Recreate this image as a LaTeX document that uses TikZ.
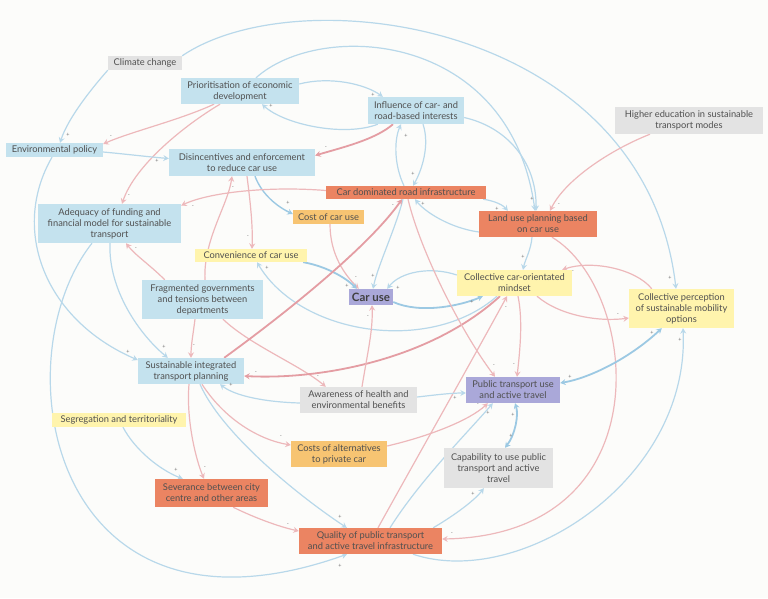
\documentclass[tikz,border=0pt]{standalone}
\usepackage{fontspec}
\setmainfont{Lato}
\usetikzlibrary{arrows.meta,calc,backgrounds}
\definecolor{bgc}{HTML}{FCFCFA}
\definecolor{txtc}{HTML}{505050}
\definecolor{sgnc}{HTML}{707070}
\definecolor{cblue}{HTML}{C4E2EE}
\definecolor{cgray}{HTML}{E3E3E3}
\definecolor{cyel}{HTML}{FFF4AD}
\definecolor{corg}{HTML}{F7C472}
\definecolor{cred}{HTML}{EB8462}
\definecolor{cpur}{HTML}{AAA8D9}
\definecolor{lblue}{HTML}{B8D8EA}
\definecolor{dblue}{HTML}{9CC9E3}
\definecolor{lred}{HTML}{EDB8BB}
\definecolor{dred}{HTML}{E49DA3}
\tikzset{
  nbox/.style={inner sep=0pt, align=center, text=txtc, font=\fontsize{9.3}{11}\selectfont},
  bluen/.style={nbox, fill=cblue},
  grayn/.style={nbox, fill=cgray},
  yeln/.style={nbox, fill=cyel},
  orgn/.style={nbox, fill=corg},
  redn/.style={nbox, fill=cred},
  purn/.style={nbox, fill=cpur},
  >={Stealth[length=5.5pt,width=6pt,inset=2pt]},
  bl/.style={->, draw=lblue, line width=1.2pt},
  blk/.style={->, draw=dblue, line width=1.8pt},
  rd/.style={->, draw=lred, line width=1.2pt},
  rdk/.style={->, draw=dred, line width=1.8pt},
  sgn/.style={font=\fontsize{5.5}{6}\selectfont, text=sgnc, inner sep=0pt}
}
\begin{document}
\begin{tikzpicture}[x=1pt,y=-1pt]
\useasboundingbox (0,0) rectangle (768,598);
% nodes
\node[grayn, minimum width=74pt, minimum height=14pt] (cc) at (145,63) {Climate change};
\node[bluen, minimum width=118pt, minimum height=26pt] (prio) at (240,91) {Prioritisation of economic\\development};
\node[bluen, minimum width=96pt, minimum height=27pt] (infl) at (416,110.5) {Influence of car- and\\road-based interests};
\node[grayn, minimum width=148pt, minimum height=27pt] (hied) at (689,120.5) {Higher education in sustainable\\transport modes};
\node[bluen, minimum width=97pt, minimum height=14pt] (env) at (54.5,150) {Environmental policy};
\node[bluen, minimum width=146pt, minimum height=27pt] (disinc) at (242,162.5) {Disincentives and enforcement\\to reduce car use};
\node[redn, minimum width=160pt, minimum height=13pt] (cdri) at (406,192.5) {Car dominated road infrastructure};
\node[orgn, minimum width=71pt, minimum height=14pt] (cost) at (328.5,217) {Cost of car use};
\node[redn, minimum width=118pt, minimum height=26pt] (land) at (538,224) {Land use planning based\\on car use};
\node[bluen, minimum width=143pt, minimum height=39pt] (adeq) at (109.5,223.5) {Adequacy of funding and\\financial model for sustainable\\transport};
\node[yeln, minimum width=112pt, minimum height=13pt] (conv) at (251,255.5) {Convenience of car use};
\node[yeln, minimum width=115pt, minimum height=26pt] (mind) at (514.5,283) {Collective car-orientated\\mindset};
\node[yeln, minimum width=105pt, minimum height=39pt] (perc) at (681.5,308.5) {Collective perception\\of sustainable mobility\\options};
\node[bluen, minimum width=121pt, minimum height=39pt] (frag) at (202.5,299.5) {Fragmented governments\\and tensions between\\departments};
\node[purn, minimum width=44pt, minimum height=16pt, font=\fontsize{11.5}{13}\selectfont\bfseries, text=black!75] (car) at (371,297) {Car use};
\node[bluen, minimum width=106pt, minimum height=26pt] (sitp) at (191,371) {Sustainable integrated\\transport planning};
\node[grayn, minimum width=117pt, minimum height=26pt] (aware) at (358.5,400) {Awareness of health and\\environmental benefits};
\node[purn, minimum width=94pt, minimum height=26pt] (pt) at (513,390) {Public transport use\\and active travel};
\node[yeln, minimum width=134pt, minimum height=14pt] (seg) at (119,420) {Segregation and territoriality};
\node[orgn, minimum width=96pt, minimum height=26pt] (alt) at (339,454) {Costs of alternatives\\to private car};
\node[grayn, minimum width=109pt, minimum height=40pt] (cap) at (498.5,468) {Capability to use public\\transport and active\\travel};
\node[redn, minimum width=113pt, minimum height=28pt] (sev) at (211.5,493) {Severance between city\\centre and other areas};
\node[redn, minimum width=143pt, minimum height=26pt] (qual) at (370.5,541) {Quality of public transport\\and active travel infrastructure};
% signs
\foreach \px/\py/\t [count=\i] in {68/135/+, 670/278/+, 111/137/-, 129/196/-, 373/95/+, 271/106/+, 326/148/-, 406/136/+, 413/174/+, 157/161/+, 288/203/+, 248/237/-, 233/188/-, 136/249/-, 194/346/-, 318/377/-, 193/207/-, 356/278/-, 347/286/+, 373/276/+, 398/288/+, 472/302/+, 267/268/+, 393/206/-, 423/204/+, 497/209/+, 532/199/+, 559/205/-, 523/257/+, 452/534/-, 573/272/-, 618/315/-, 256/373/-, 514/365/-, 506/308/-, 494/366/-, 570/377/+, 652/333/+, 680/340/+, 513/415/+, 511/436/+, 473/494/+, 488/413/+, 478/405/-, 455/398/+, 231/385/+, 368/317/-, 164/347/+, 128/352/+, 340/566/+, 340/517/+, 205/468/-, 281/437/-, 176/470/+, 288/525/-}
  \node[sgn] (sg\i) at (\px,\py) {\t};
\begin{pgfonlayer}{background}
\fill[bgc] (0,0) rectangle (768,598);
% edges
\draw[bl] (cc.south west) .. controls (92,88) and (68,118) .. ($(env.north)+(5.5,0)$);
\draw[bl] (cc.north east) .. controls (300,-24) and (645,22) .. ($(perc.north)+(-5.5,0)$);
\draw[rd] ($(prio.south)+(-26,0)$) .. controls (180,120) and (130,132) .. ($(env.east)+(0,-6)$);
\draw[rd] ($(prio.south)+(-20,0)$) .. controls (185,125) and (135,165) .. ($(adeq.north)+(12.5,0)$);
\draw[bl] ($(prio.east)+(0,-7)$) .. controls (330,76) and (365,84) .. ($(infl.north west)+(15,0)$);
\draw[bl] ($(infl.south west)+(10,0)$) .. controls (345,137) and (285,125) .. ($(prio.south)+(22,0)$);
\draw[rdk] ($(infl.south)+(-23,0)$) .. controls (375,140) and (340,148) .. ($(disinc.east)+(0,-7)$);
\draw[bl] ($(cdri.north)+(-2,0)$) .. controls (394,165) and (394,140) .. ($(infl.south)+(-15,0)$);
\draw[bl] ($(infl.south)+(7,0)$) .. controls (430,145) and (422,170) .. ($(cdri.north)+(7,0)$);
\draw[bl] ($(env.east)+(0,2)$) .. controls (125,154) and (150,157) .. ($(disinc.west)+(0,-4)$);
\draw[->, draw=dblue, line width=1.4pt] ($(disinc.south)+(13,0)$) .. controls (262,195) and (278,207) .. ($(cost.west)+(0,-3)$);
\draw[rd] ($(disinc.south)+(5,0)$) .. controls (250,200) and (253,225) .. ($(conv.north)+(1,0)$);
\draw[rd] ($(frag.north)+(2.5,0)$) .. controls (203,240) and (228,205) .. ($(disinc.south)+(-10,0)$);
\draw[rd] ($(frag.north west)+(23,0)$) .. controls (150,265) and (135,255) .. ($(adeq.south)+(16.5,0)$);
\draw[rd] ($(frag.south)+(-7.5,0)$) .. controls (193,335) and (191,345) .. (sitp.north);
\draw[rd] ($(frag.south)+(20.5,0)$) .. controls (250,345) and (300,365) .. ($(aware.north west)+(26,0)$);
\draw[rd] ($(cdri.west)+(0,-2)$) .. controls (270,186) and (210,192) .. ($(adeq.east)+(0,-18)$);
\draw[rd] ($(cost.south)+(1.5,0)$) .. controls (330,255) and (345,275) .. ($(car.north west)+(10,0)$);
\draw[blk] ($(conv.south east)+(-4,0)$) .. controls (325,266) and (345,277) .. ($(car.north west)+(8,0)$);
\draw[bl] ($(cdri.south)+(-3,0)$) .. controls (395,230) and (378,265) .. ($(car.north)+(2,0)$);
\draw[bl] ($(mind.west)+(0,-8)$) .. controls (430,266) and (400,272) .. ($(car.north east)+(-6,0)$);
\draw[blk] ($(car.east)+(0,5)$) .. controls (420,314) and (460,306) .. ($(mind.south west)+(26,0)$);
\draw[bl] ($(mind.south)+(-17.5,0)$) .. controls (430,355) and (300,335) .. ($(conv.south)+(6,0)$);
\draw[rdk] ($(sitp.north east)+(-20,0)$) .. controls (290,310) and (370,245) .. ($(cdri.south)+(-4,0)$);
\draw[bl] ($(land.west)+(0,8)$) .. controls (450,228) and (425,212) .. ($(cdri.south)+(9,0)$);
\draw[bl] ($(cdri.south east)+(-3,0)$) .. controls (495,201) and (503,205) .. ($(land.north west)+(29,0)$);
\draw[bl] ($(infl.east)+(0,7)$) .. controls (510,128) and (537,165) .. ($(land.north)+(-2,0)$);
\draw[bl] ($(prio.north)+(16,0)$) .. controls (320,20) and (510,30) .. ($(land.north)+(-3,0)$);
\draw[rd] ($(hied.south)+(-39,0)$) .. controls (610,150) and (565,180) .. ($(land.north)+(12,0)$);
\draw[bl] ($(land.south)+(-6,0)$) .. controls (531,250) and (525,260) .. ($(mind.north)+(8.5,0)$);
\draw[rd] ($(land.south)+(14,0)$) .. controls (640,290) and (665,535) .. ($(qual.east)+(0,-2)$);
\draw[rd] ($(perc.north west)+(23,0)$) .. controls (635,268) and (590,260) .. ($(mind.north east)+(-10,0)$);
\draw[rd] ($(mind.south)+(22.5,0)$) .. controls (560,316) and (600,322) .. ($(perc.west)+(0,9.5)$);
\draw[rdk] ($(mind.south)+(-14.5,0)$) .. controls (430,360) and (320,380) .. ($(sitp.east)+(0,5)$);
\draw[rd] ($(mind.south)+(3.5,0)$) .. controls (523,320) and (520,350) .. ($(pt.north)+(4,0)$);
\draw[rd] ($(qual.north)+(7.5,0)$) .. controls (410,470) and (475,355) .. ($(mind.south)+(-7.5,0)$);
\draw[rd] ($(cdri.south)+(2,0)$) .. controls (420,250) and (460,330) .. ($(pt.north)+(-18,0)$);
\draw[blk, <->] ($(perc.south west)+(33,0)$) .. controls (630,358) and (590,378) .. ($(pt.east)+(0,-7)$);
\draw[bl] ($(qual.south)+(42.5,0)$) .. controls (520,590) and (690,480) .. ($(perc.south)+(1.5,0)$);
\draw[blk, <->] ($(cap.north)+(6.5,0)$) .. controls (515,435) and (519,415) .. ($(pt.south)+(2,0)$);
\draw[bl] ($(qual.north east)+(-9,0)$) .. controls (455,515) and (475,500) .. ($(cap.south west)+(40,0)$);
\draw[bl] ($(qual.north)+(19.5,0)$) .. controls (420,480) and (470,430) .. ($(pt.south west)+(27,0)$);
\draw[rd] ($(alt.east)+(0,-8)$) .. controls (430,436) and (470,420) .. ($(pt.south west)+(22,0)$);
\draw[bl] ($(aware.east)+(0,-3)$) .. controls (435,395) and (450,393) .. ($(pt.west)+(0,3)$);
\draw[bl] ($(aware.west)+(0,3)$) .. controls (265,402) and (235,396) .. ($(sitp.south)+(29,0)$);
\draw[rd] ($(aware.north)+(3.5,0)$) .. controls (368,350) and (373,330) .. ($(car.south)+(1,0)$);
\draw[bl] ($(adeq.south)+(0.5,0)$) .. controls (108,290) and (140,335) .. ($(sitp.north west)+(30,0)$);
\draw[bl] ($(env.south)+(-2.5,0)$) .. controls (10,230) and (45,320) .. ($(sitp.west)+(0,-11)$);
\draw[bl] ($(adeq.south)+(-17.5,0)$) .. controls (0,360) and (50,660) .. ($(qual.south)+(-23.5,0)$);
\draw[bl] ($(sitp.south)+(9,0)$) .. controls (220,430) and (290,490) .. ($(qual.north west)+(48,0)$);
\draw[rd] ($(sitp.south)+(-2,0)$) .. controls (186,420) and (196,460) .. ($(sev.north)+(-7.5,0)$);
\draw[rd] ($(sitp.south)+(11,0)$) .. controls (225,420) and (260,440) .. ($(alt.west)+(0,-9)$);
\draw[bl] ($(seg.south)+(4,0)$) .. controls (135,450) and (160,470) .. ($(sev.north west)+(28,0)$);
\draw[rd] ($(sev.south east)+(-35,0)$) .. controls (255,518) and (280,527) .. ($(qual.west)+(0,-10)$);
\end{pgfonlayer}
\end{tikzpicture}
\end{document}
